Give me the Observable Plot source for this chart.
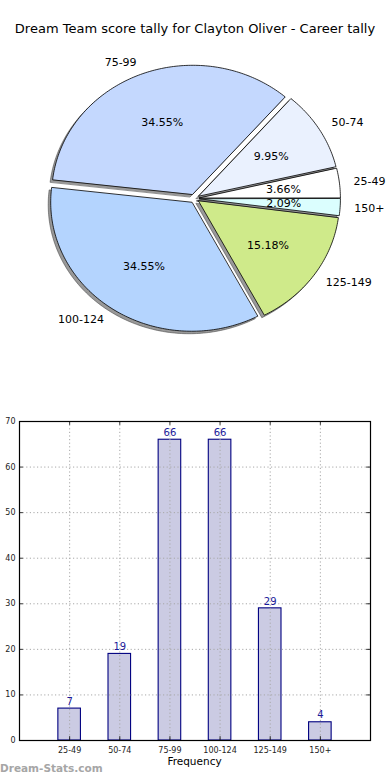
<!DOCTYPE html>
<html>
<head>
<meta charset="utf-8">
<script src="https://cdn.jsdelivr.net/npm/d3@7"></script>
<script src="https://cdn.jsdelivr.net/npm/@observablehq/plot@0.6"></script>
<style>
  body { margin: 0; background: #fff; font-family: "DejaVu Sans", sans-serif; }
  #wrap { position: relative; width: 390px; height: 780px; overflow: hidden; }
  #title { position: absolute; top: 21px; left: 0; width: 390px; text-align: center; font-size: 13px; color: #000; }
  #pie { position: absolute; top: 38px; left: 0; }
  #bar { position: absolute; top: 410px; left: 0; }
  #xlabel { position: absolute; top: 755px; left: 19px; width: 351px; text-align: center; font-size: 10.5px; color: #000; }
  #mark { position: absolute; top: 762px; left: 0; font-size: 10.5px; font-weight: bold; color: #a6a6a6; }
  svg text { font-family: "DejaVu Sans", sans-serif; }
</style>
</head>
<body>
<div id="wrap">
  <div id="title">Dream Team score tally for Clayton Oliver - Career tally</div>
  <div id="pie"></div>
  <div id="bar"></div>
  <div id="xlabel">Frequency</div>
  <div id="mark">Dream-Stats.com</div>
</div>
<script>
const categories = ["25-49", "50-74", "75-99", "100-124", "125-149", "150+"];
const counts = [7, 19, 66, 66, 29, 4];
const pieColors = ["#ffffff", "#eaf1fe", "#c4d8fe", "#b4d4fe", "#cfea8a", "#dbfefe"];
const yTicks = [0, 10, 20, 30, 40, 50, 60, 70];

// ---------- Pie ----------
const total = d3.sum(counts);
const explode = 0.035;
const slices = [];
let cum = 0;
categories.forEach((c, i) => {
  const a0 = cum / total * 2 * Math.PI;
  cum += counts[i];
  const a1 = cum / total * 2 * Math.PI;
  const mid = (a0 + a1) / 2;
  const ox = explode * Math.cos(mid), oy = explode * Math.sin(mid);
  slices.push({cat: c, i, a0, a1, mid, ox, oy, pct: (counts[i] / total * 100).toFixed(2) + "%"});
});
const piePts = [];
for (const s of slices) {
  piePts.push({cat: s.cat, x: s.ox, y: s.oy});
  const n = Math.max(2, Math.ceil((s.a1 - s.a0) / (Math.PI / 180)));
  for (let k = 0; k <= n; k++) {
    const a = s.a0 + (s.a1 - s.a0) * k / n;
    piePts.push({cat: s.cat, x: s.ox + Math.cos(a), y: s.oy + Math.sin(a)});
  }
}
const labels = slices.map(s => ({
  cat: s.cat,
  x: s.ox + 1.1 * Math.cos(s.mid),
  y: s.oy + 1.1 * Math.sin(s.mid),
  right: Math.cos(s.mid) >= 0
}));
const pcts = slices.map(s => ({
  pct: s.pct,
  x: s.ox + 0.6 * Math.cos(s.mid),
  y: s.oy + 0.6 * Math.sin(s.mid)
}));

const W = 390, H = 320, rx = 141, ry = 129, cx = 194;
const pie = Plot.plot({
  width: W, height: H,
  margin: 0,
  x: {domain: [-cx / rx, (W - cx) / rx], axis: null},
  y: {domain: [-(H / 2) / ry, (H / 2) / ry], axis: null},
  color: {type: "ordinal", domain: categories, range: pieColors},
  marks: [
    Plot.line(piePts, {x: "x", y: "y", z: "cat", curve: "linear-closed", fill: "#333", fillOpacity: 0.5, stroke: "#333", strokeOpacity: 0.5, strokeWidth: 1, dx: -2.5, dy: 2.5}),
    Plot.line(piePts, {x: "x", y: "y", z: "cat", curve: "linear-closed", fill: "cat", stroke: "#000", strokeWidth: 0.8}),
    Plot.text(labels.filter(d => d.right), {x: "x", y: "y", text: "cat", textAnchor: "start", fontSize: 11, fill: "#000"}),
    Plot.text(labels.filter(d => !d.right), {x: "x", y: "y", text: "cat", textAnchor: "end", fontSize: 11, fill: "#000"}),
    Plot.text(pcts, {x: "x", y: "y", text: "pct", fontSize: 11, fill: "#000"})
  ]
});
document.getElementById("pie").appendChild(pie);

// ---------- Bar ----------
const barData = categories.map((c, i) => ({cat: c, pos: i + 1, count: counts[i]}));
const positions = barData.map(d => d.pos);
const halfW = 0.225;
const xMax = 7, yMax = 70;
const bar = Plot.plot({
  width: 390, height: 370,
  marginLeft: 19, marginRight: 20, marginTop: 11, marginBottom: 40,
  x: {domain: [0, xMax], axis: null},
  y: {domain: [0, yMax], axis: null},
  marks: [
    Plot.rectY(barData, {x1: d => d.pos - halfW, x2: d => d.pos + halfW, y1: 0, y2: "count", fill: "#cbcbe3", stroke: "#000080", strokeWidth: 1.1}),
    Plot.gridX(positions, {stroke: "#a8a8a8", strokeOpacity: 1, strokeDasharray: "1.2,2.4", strokeWidth: 1}),
    Plot.gridY(yTicks, {stroke: "#a8a8a8", strokeOpacity: 1, strokeDasharray: "1.2,2.4", strokeWidth: 1}),
    Plot.ruleX(positions, {y1: 0, y2: yMax * 0.012, stroke: "#000", strokeWidth: 0.8}),
    Plot.ruleX(positions, {y1: yMax * 0.988, y2: yMax, stroke: "#000", strokeWidth: 0.8}),
    Plot.ruleY(yTicks, {x1: 0, x2: xMax * 0.011, stroke: "#000", strokeWidth: 0.8}),
    Plot.ruleY(yTicks, {x1: xMax * 0.989, x2: xMax, stroke: "#000", strokeWidth: 0.8}),
    Plot.frame({stroke: "#000", strokeWidth: 1.2}),
    Plot.text(barData, {x: "pos", y: "count", text: d => String(d.count), dy: -7, fill: "#1a1a99", fontSize: 10}),
    Plot.axisX(positions, {tickFormat: p => categories[p - 1], tickSize: 0, tickPadding: 7, fontSize: 8, fill: "#222", label: null}),
    Plot.axisY(yTicks, {tickSize: 0, tickPadding: 4, fontSize: 8, fill: "#222", label: null})
  ]
});
document.getElementById("bar").appendChild(bar);
</script>
</body>
</html>
